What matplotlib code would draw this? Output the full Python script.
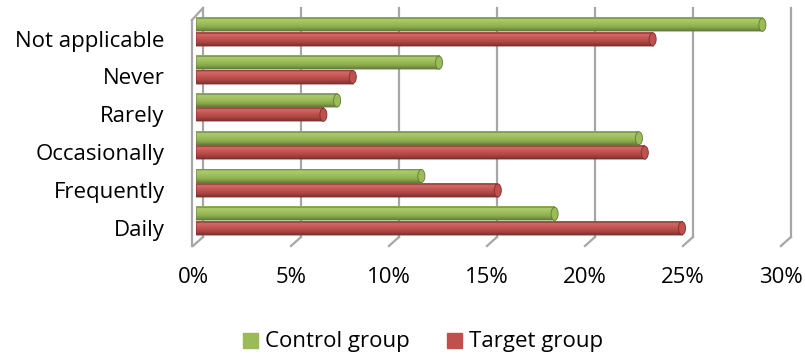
import numpy as np
import matplotlib.pyplot as plt
from matplotlib.patches import Ellipse
from matplotlib.colors import LinearSegmentedColormap

plt.rcParams['font.family'] = ['Open Sans', 'DejaVu Sans']

# data (percent)
categories = ['Daily', 'Frequently', 'Occasionally', 'Rarely', 'Never', 'Not applicable']
control = [18.3, 11.5, 22.6, 7.2, 12.4, 28.9]
target = [24.8, 15.4, 22.9, 6.5, 8.0, 23.3]
xticks = [0, 5, 10, 15, 20, 25, 30]
xtick_labels = ['0%', '5%', '10%', '15%', '20%', '25%', '30%']

green = '#9BBB59'
red = '#C0504D'
# top -> bottom shading of the cylinders
green_shade = ['#86A64A', '#AACA6C', '#A4C464', '#9BBB59', '#90AF50', '#7C9A43', '#62793A']
red_shade = ['#A94542', '#D06B68', '#C95F5C', '#C0504D', '#B24946', '#9A3E3B', '#7A302E']
wall = '#A6A6A6'

fig = plt.figure(figsize=(8.05, 3.58), dpi=100)
ax = fig.add_axes([186 / 805, (358 - 245) / 358, 614 / 805, 237 / 358])
ax.axis('off')

# 3D-ish walls: back gridlines + floor diagonals
for t in xticks:
    xb = t + 0.357
    xf = t - 0.153
    ax.plot([xb, xb], [-0.423, 5.635], color=wall, lw=1.6, clip_on=False, zorder=1)
    ax.plot([xb, xf], [-0.423, -0.661], color=wall, lw=1.6, clip_on=False, zorder=1)
ax.plot([-0.204, -0.204], [-0.661, 5.317], color=wall, lw=1.6, clip_on=False, zorder=1)
ax.plot([-0.204, 0.357], [5.317, 5.635], color=wall, lw=1.6, clip_on=False, zorder=1)

y = np.arange(len(categories))
h = 0.345
off = 0.19

cm_green = LinearSegmentedColormap.from_list('g', green_shade)
cm_red = LinearSegmentedColormap.from_list('r', red_shade)
grad = np.linspace(0, 1, 64).reshape(-1, 1)


def cyl(yc, val, cmap, dark):
    ax.imshow(grad, cmap=cmap, aspect='auto', interpolation='bilinear',
              extent=(0, val, yc - h / 2, yc + h / 2), origin='upper', zorder=3)
    ax.add_patch(plt.Rectangle((0, yc - h / 2), val, h, fill=False, edgecolor=dark,
                               lw=0.5, alpha=0.6, zorder=4))
    ax.add_patch(Ellipse((val, yc), 0.36, h, facecolor=cmap(0.5), edgecolor=dark, lw=0.6, zorder=5))


for i in range(len(categories)):
    cyl(y[i] + off, control[i], cm_green, green_shade[-1])
    cyl(y[i] - off, target[i], cm_red, red_shade[-1])

ax.set_xlim(-0.51, 30.82)
ax.set_ylim(-0.635, 5.635)

# category labels
for i, c in enumerate(categories):
    ax.text(-1.6, y[i] - 0.24, c, ha='right', va='center', fontsize=16, color='black', clip_on=False)

# x tick labels
for t, lab in zip(xticks, xtick_labels):
    ax.text(t - 0.15, -1.5, lab, ha='center', va='center', fontsize=16, clip_on=False)

# legend
fig.patches.append(plt.Rectangle((243 / 805, 1 - 348 / 358), 15 / 805, 15 / 358,
                                 transform=fig.transFigure, color=green))
fig.text(265 / 805, 1 - 341 / 358, 'Control group', ha='left', va='center', fontsize=16)
fig.patches.append(plt.Rectangle((447 / 805, 1 - 348 / 358), 15 / 805, 15 / 358,
                                 transform=fig.transFigure, color=red))
fig.text(469 / 805, 1 - 341 / 358, 'Target group', ha='left', va='center', fontsize=16)

fig.savefig('out.png', dpi=100)
